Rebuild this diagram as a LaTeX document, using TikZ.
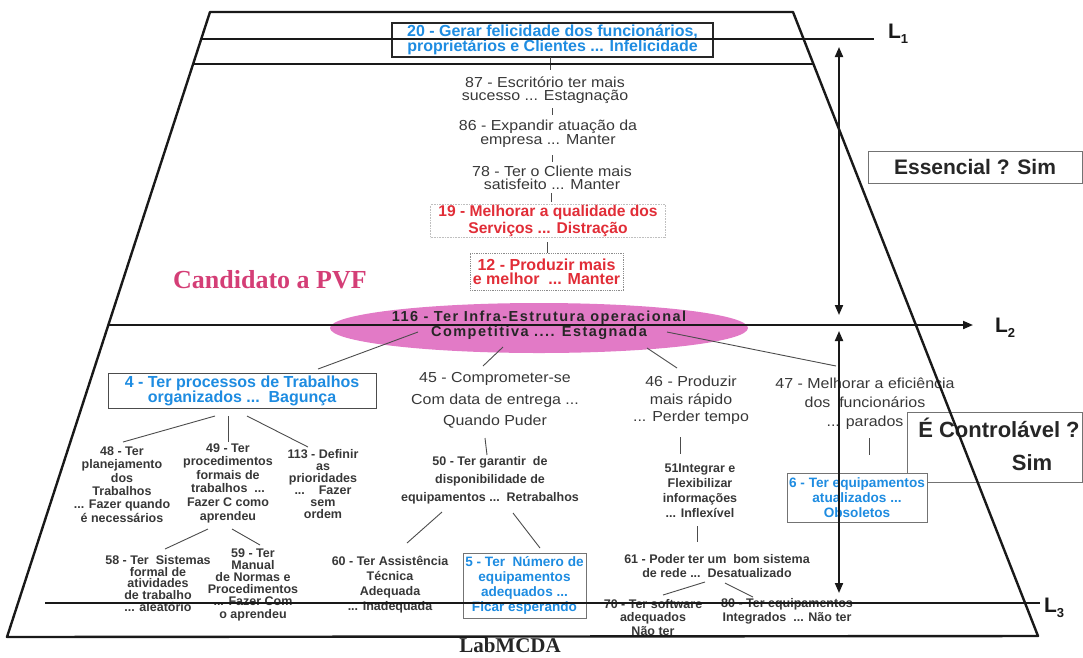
\documentclass[tikz,border=0pt]{standalone}
\usepackage{fontspec}
\setmainfont{Liberation Sans}
\newfontfamily\widesans{Liberation Sans}[FakeStretch=1.1]
\newfontfamily\trackedsans{Liberation Sans}[LetterSpace=10]
\newfontfamily\titleserif{Liberation Serif}
\usetikzlibrary{shapes.geometric,arrows.meta,calc}

\definecolor{ink}{RGB}{55,55,55}
\definecolor{goalblue}{RGB}{30,140,225}
\definecolor{goalred}{RGB}{225,45,55}
\definecolor{hubpink}{RGB}{226,122,198}
\definecolor{pvfpink}{RGB}{212,62,118}
\definecolor{rule}{RGB}{25,25,25}

\tikzset{
  every node/.style={inner sep=0pt, outer sep=0pt},
  plain/.style={align=center, text=ink, font=\widesans\fontsize{14.5}{#1}\selectfont},
  small/.style={align=center, text=ink, font=\bfseries\fontsize{12.5}{#1}\selectfont},
  goalbox/.style={draw=black!70, line width=1pt, fill=white, align=center,
                  text=goalblue, font=\bfseries\fontsize{16}{15}\selectfont},
  smallgoal/.style={goalbox, draw=black!55, font=\bfseries\fontsize{13.6}{15}\selectfont},
  redgoal/.style={align=center, text=goalred, font=\bfseries\fontsize{#1}{14}\selectfont},
  askbox/.style={draw=black!55, line width=0.9pt, fill=white},
  askfont/.style={text=black!85, font=\bfseries\fontsize{#1}{24}\selectfont},
  link/.style={draw=black!70, line width=0.9pt},
  frame/.style={draw=rule, line width=2.4pt, line join=round},
  level/.style={draw=rule, line width=1.9pt},
  span/.style={draw=rule, line width=1.9pt,
               {Triangle[length=10pt,width=8pt]}-{Triangle[length=10pt,width=8pt]}},
  levellabel/.style={anchor=base west, text=rule, font=\bfseries\fontsize{21}{21}\selectfont},
}
\newcommand{\lvl}[1]{L\raisebox{-5pt}{\fontsize{13}{13}\selectfont #1}}

\begin{document}
\begin{tikzpicture}[x=1pt,y=-1pt]
\useasboundingbox (0,0) rectangle (1083,657);

% ---- upper chain of objectives
\node[goalbox, draw=black!85, line width=1.3pt, minimum width=321pt, minimum height=34pt] (n20) at (552.5,40)
  {20 - Gerar felicidade dos funcionários,\\proprietários e Clientes ... Infelicidade};
\node[plain=13] (n87) at (545,90) {87 - Escritório ter mais\\sucesso ... Estagnação};
\node[plain=13] (n86) at (548,133.5) {86 - Expandir atuação da\\empresa ... Manter};
\node[plain=13] (n78) at (552,178) {78 - Ter o Cliente mais\\satisfeito ... Manter};
\node[redgoal=15.6, draw=black!25, densely dotted, line width=0.6pt, minimum width=235pt, minimum height=33pt] (n19) at (548,221)
  {\strut 19 - Melhorar a qualidade dos\\Serviços ... Distração};
\node[redgoal=16, draw=black!45, densely dotted, line width=0.8pt, minimum width=153pt, minimum height=37pt] (n12) at (546.5,271.5)
  {12 - Produzir mais\\e melhor\ \ ... Manter};

% ---- central objective
\node[ellipse, fill=hubpink, minimum width=418pt, minimum height=50pt] (hub) at (539,328) {};
\node[align=center, text=black!85, font=\trackedsans\bfseries\fontsize{14.5}{15}\selectfont] (hubt) at (539,325)
  {116 - Ter Infra-Estrutura operacional\\Competitiva .... Estagnada};

% ---- lower branches
\node[goalbox, minimum width=268pt, minimum height=35pt] (b4) at (242,390.5)
  {4 - Ter processos de Trabalhos\\organizados ...\ \ Bagunça};
\node[small=13.4] (n48) at (122,484.5) {48 - Ter\\planejamento\\dos\\Trabalhos\\... Fazer quando\\é necessários};
\node[small=13.6] (n49) at (228,483) {49 - Ter\\procedimentos\\formais de\\trabalhos\ \ ...\\Fazer C como\\aprendeu};
\node[small=12] (n113) at (323,484) {113 - Definir\\as\\prioridades\\...\ \ \ \ Fazer\\sem\\ordem};
\node[small=11.8] (n58) at (158,583.5) {58 - Ter\ \ Sistemas\\formal de\\atividades\\de trabalho\\... aleatório};
\node[small=12.2] (n59) at (253,584.5) {59 - Ter\\Manual\\de Normas e\\Procedimentos\\... Fazer Com\\o aprendeu};

\node[plain=21.5] (n45) at (495,400.5) {45 - Comprometer-se\\Com data de entrega ...\\Quando Puder};
\node[small=18] (n50) at (490,480) {50 - Ter garantir\ \ de\\disponibilidade de\\equipamentos ...\ \ Retrabalhos};
\node[small=15] (n60) at (390,584.5) {60 - Ter Assistência\\Técnica\\Adequada\\... Inadequada};
\node[smallgoal, minimum width=123pt, minimum height=65pt] (b5) at (524.5,585.5)
  {5 - Ter\ \ Número de\\equipamentos\\adequados ...\\Ficar esperando};

\node[plain=17.5] (n46) at (691,400.5) {46 - Produzir\\mais rápido\\... Perder tempo};
\node[small=15] (n51) at (700,490.5) {51Integrar e\\Flexibilizar\\informações\\... Inflexível};
\node[small=14] (n61) at (717,566) {61 - Poder ter um\ \ bom sistema\\de rede ...\ \ Desatualizado};
\node[small=13.5] (n70) at (653,617.5) {70 - Ter software\\adequados\\Não ter};
\node[small=14] (n80) at (787,611) {80 - Ter equipamentos\\Integrados\ \ ... Não ter};

\node[plain=19] (n47) at (865,403.5) {47 - Melhorar a eficiência\\dos\ \ funcionários\\... parados};

% ---- questions
\node[askbox, askfont=21, minimum width=214pt, minimum height=32pt] (ess) at (975,167) {Essencial ? Sim};
\node[askbox, minimum width=175pt, minimum height=70pt] (ctl) at (994.5,447) {};
\node[askfont=22] (ctlq) at (999,428) {É Controlável ?};
\node[askfont=22] (ctls) at (1032,463) {Sim};
\node[smallgoal, minimum width=140pt, minimum height=49pt] (b6) at (857,497.5)
  {6 - Ter equipamentos\\atualizados ...\\Obsoletos};

\node[text=pvfpink, font=\titleserif\bfseries\fontsize{26}{26}\selectfont] (pvf) at (270,280) {Candidato a PVF};
\node[text=black!85, font=\titleserif\bfseries\fontsize{21}{21}\selectfont] (lab) at (510,645.5) {LabMCDA};

% ---- links between objectives
\draw[link] ($(n20)+(-2.5,17)$) -- ($(n87)+(5,-20)$);
\draw[link] ($(n87)+(7,18)$) -- ($(n86)+(4,-18.5)$);
\draw[link] ($(n86)+(4,21.5)$) -- ($(n78)+(0,-16)$);
\draw[link] ($(n78)+(-1,15)$) -- ($(n19)+(3,-19)$);
\draw[link] ($(n19)+(-1,21)$) -- ($(n12)+(0.5,-18.5)$);

\draw[link] ($(hub)+(-121,4)$) -- ($(b4)+(76,-21.5)$);
\draw[link] ($(hub)+(-36,19)$) -- ($(n45)+(-12,-34.5)$);
\draw[link] ($(hub)+(108,20)$) -- ($(n46)+(-14,-32.5)$);
\draw[link] ($(hub)+(128,4)$) -- ($(n47)+(-29,-37.5)$);

\draw[link] ($(b4)+(-27,25.5)$) -- ($(n48)+(1,-42.5)$);
\draw[link] ($(b4)+(-14,25.5)$) -- ($(n49)+(0,-41)$);
\draw[link] ($(b4)+(5,25.5)$) -- ($(n113)+(-15,-37)$);
\draw[link] ($(n49)+(-20,46)$) -- ($(n58)+(7,-34.5)$);
\draw[link] ($(n49)+(4,46)$) -- ($(n59)+(7,-39.5)$);

\draw[link] ($(n45)+(-10,37.5)$) -- ($(n50)+(-3,-25)$);
\draw[link] ($(n50)+(-48,32)$) -- ($(n60)+(17,-41.5)$);
\draw[link] ($(n50)+(23,33)$) -- ($(b5)+(15.5,-37.5)$);

\draw[link] ($(n46)+(-11,36.5)$) -- ($(n51)+(-20,-36.5)$);
\draw[link] ($(n51)+(-3,35.5)$) -- ($(n61)+(-20,-24)$);
\draw[link] ($(n61)+(-12,16)$) -- ($(n70)+(10,-22.5)$);
\draw[link] ($(n61)+(8,17)$) -- ($(n80)+(-34,-14)$);

\draw[link] ($(n47)+(4,34.5)$) -- ($(b6)+(12,-42.5)$);

% ---- pyramid frame and levels
\coordinate (tl) at (210,12);
\coordinate (tr) at (793,12);
\coordinate (br) at (1038,636);
\coordinate (bl) at (7,637);
\draw[frame] (tl) -- (tr) -- (br) -- (bl) -- cycle;

\draw[level] (201,39) -- (874,39);
\draw[level] (193,64) -- (813,64);
\draw[level, -{Triangle[length=10pt,width=8pt]}] (108,325) -- (973,325);
\draw[level] (45,603) -- (1040,603);

\node[levellabel] (L1) at (888,38) {\lvl{1}};
\node[levellabel] (L2) at (995,332) {\lvl{2}};
\node[levellabel] (L3) at (1044,612) {\lvl{3}};

\draw[span] (839,47) -- (839,315);
\draw[span] (839,331) -- (839,593);
\end{tikzpicture}
\end{document}
